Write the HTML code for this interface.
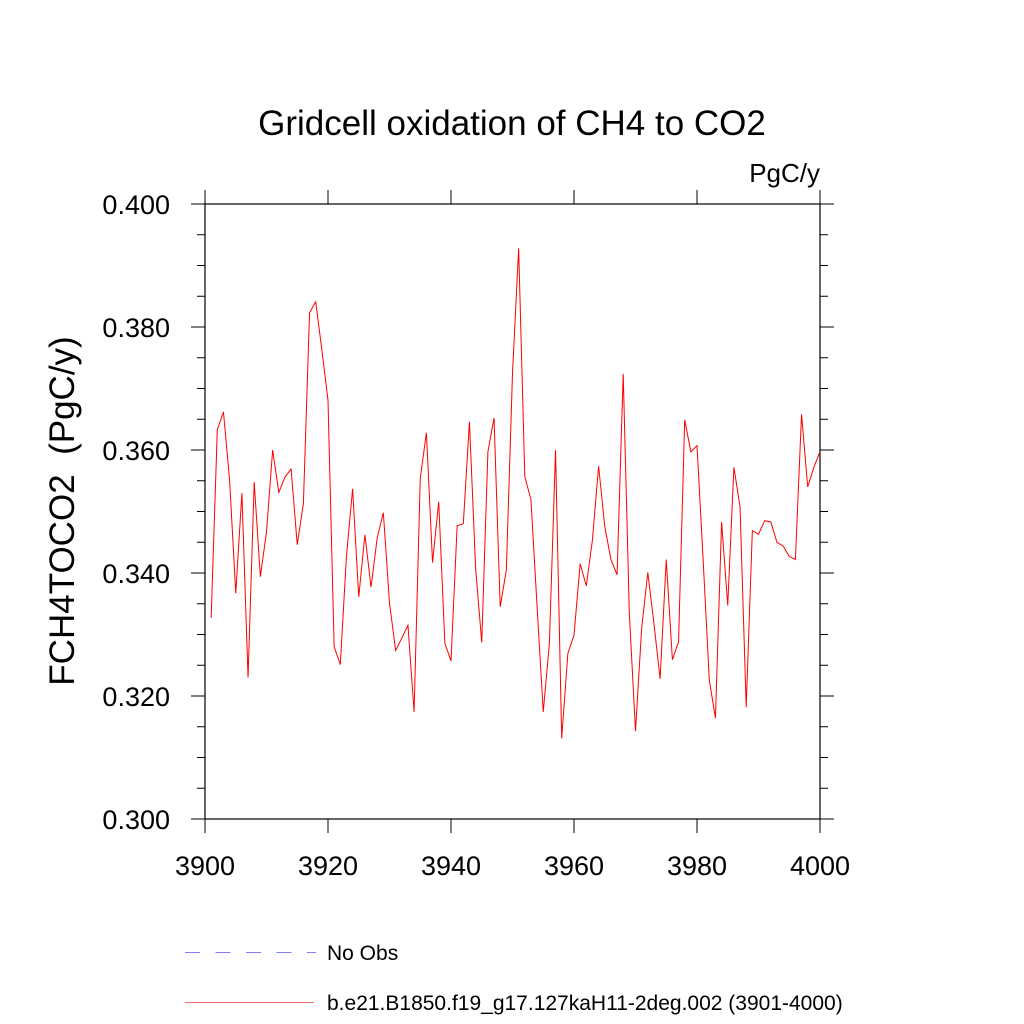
<!DOCTYPE html>
<html><head><meta charset="utf-8"><style>
html,body{margin:0;padding:0;background:#fff;}
svg{display:block;font-family:"Liberation Sans",sans-serif;}
</style></head><body>
<svg id="chart" width="1024" height="1024" viewBox="0 0 1024 1024" xmlns="http://www.w3.org/2000/svg">
<text x="512" y="135" font-size="35" text-anchor="middle">Gridcell oxidation of CH4 to CO2</text>
<text x="820" y="182" font-size="26" text-anchor="end">PgC/y</text>
<text xml:space="preserve" transform="translate(74,511) rotate(-90)" font-size="35" text-anchor="middle">FCH4TOCO2  (PgC/y)</text>
<g id="axes"></g>
<g id="series"></g>
<g>
<line x1="185" y1="952.5" x2="316" y2="952.5" stroke="#8080ff" stroke-width="1" stroke-dasharray="15,15.5"/>
<text x="327" y="960" font-size="21">No Obs</text>
<line x1="185" y1="1002.5" x2="314" y2="1002.5" stroke="#f07070" stroke-width="1"/>
<text x="327" y="1010" font-size="21">b.e21.B1850.f19_g17.127kaH11-2deg.002 (3901-4000)</text>
</g>
</svg>
<script>
const years = [];
for (let y = 3901; y <= 4000; y++) years.push(y);
const values = [0.3327,0.3633,0.3662,0.3551,0.3367,0.353,0.323,0.3548,0.3394,0.3467,
0.360,0.3531,0.3556,0.3569,0.3446,0.3513,0.3823,0.3841,0.3763,0.3681,
0.328,0.3251,0.3427,0.3537,0.3361,0.3462,0.3377,0.3457,0.3498,0.3351,
0.3274,0.3294,0.3315,0.3174,0.3554,0.3628,0.3417,0.3516,0.3286,0.3257,
0.3477,0.348,0.3646,0.3408,0.3287,0.3597,0.3652,0.3345,0.3405,0.3725,
0.3928,0.3557,0.3519,0.3345,0.3174,0.3286,0.360,0.3131,0.3269,0.3299,
0.3415,0.3379,0.3454,0.3574,0.3476,0.3422,0.3397,0.3724,0.3334,0.3143,
0.331,0.3401,0.3318,0.3228,0.3422,0.3259,0.3288,0.3649,0.3597,0.3607,
0.3421,0.3226,0.3164,0.3483,0.3347,0.3572,0.3507,0.3182,0.3469,0.3463,
0.3485,0.3483,0.345,0.3444,0.3427,0.3422,0.3658,0.354,0.3572,0.3597];
const xTicks = [3900,3920,3940,3960,3980,4000];
const yTicks = [0.300,0.320,0.340,0.360,0.380,0.400];
const yTickLabels = ["0.300","0.320","0.340","0.360","0.380","0.400"];
const X0=205,X1=820,Y0=819,Y1=204;
const xs = v => X0 + (v-3900)/100*(X1-X0);
const ys = v => Y0 - (v-0.3)/0.1*(Y0-Y1);
const NS="http://www.w3.org/2000/svg";
const axes=document.getElementById('axes');
function mk(tag,attrs,parent){const e=document.createElementNS(NS,tag);for(const k in attrs)e.setAttribute(k,attrs[k]);parent.appendChild(e);return e;}
const frame=mk('rect',{x:X0,y:Y1,width:X1-X0,height:Y0-Y1,fill:'none',stroke:'#000','stroke-width':1.2},axes);


xTicks.forEach(t=>{
  const x=xs(t);
  const a=mk('line',{x1:x,y1:Y0,x2:x,y2:Y0+14,stroke:'#000','stroke-width':1},axes);
  
  
  const b=mk('line',{x1:x,y1:Y1,x2:x,y2:Y1-14,stroke:'#000','stroke-width':1},axes);
  
  
  const l=mk('text',{x:x,y:875,'font-size':27,'text-anchor':'middle'},axes);
  l.textContent=t;
  
  
});
for(let v=0.300;v<=0.4001;v+=0.005){
  const y=ys(v);
  const major=Math.abs(Math.round(v*1000)%20)<0.5;
  const len=major?14:8;
  const a=mk('line',{x1:X0-len,y1:y,x2:X0,y2:y,stroke:'#000','stroke-width':1},axes);
  
  
  const b=mk('line',{x1:X1,y1:y,x2:X1+len,y2:y,stroke:'#000','stroke-width':1},axes);
  
  
}
yTicks.forEach((t,i)=>{
  const l=mk('text',{x:170,y:ys(t)+10,'font-size':27,'text-anchor':'end'},axes);
  l.textContent=yTickLabels[i];
  
  
});
const pts=years.map((y,i)=>xs(y).toFixed(2)+','+ys(values[i]).toFixed(2)).join(' ');
const line=mk('polyline',{points:pts,fill:'none',stroke:'#ff0000','stroke-width':1},document.getElementById('series'));


</script>
</body></html>
